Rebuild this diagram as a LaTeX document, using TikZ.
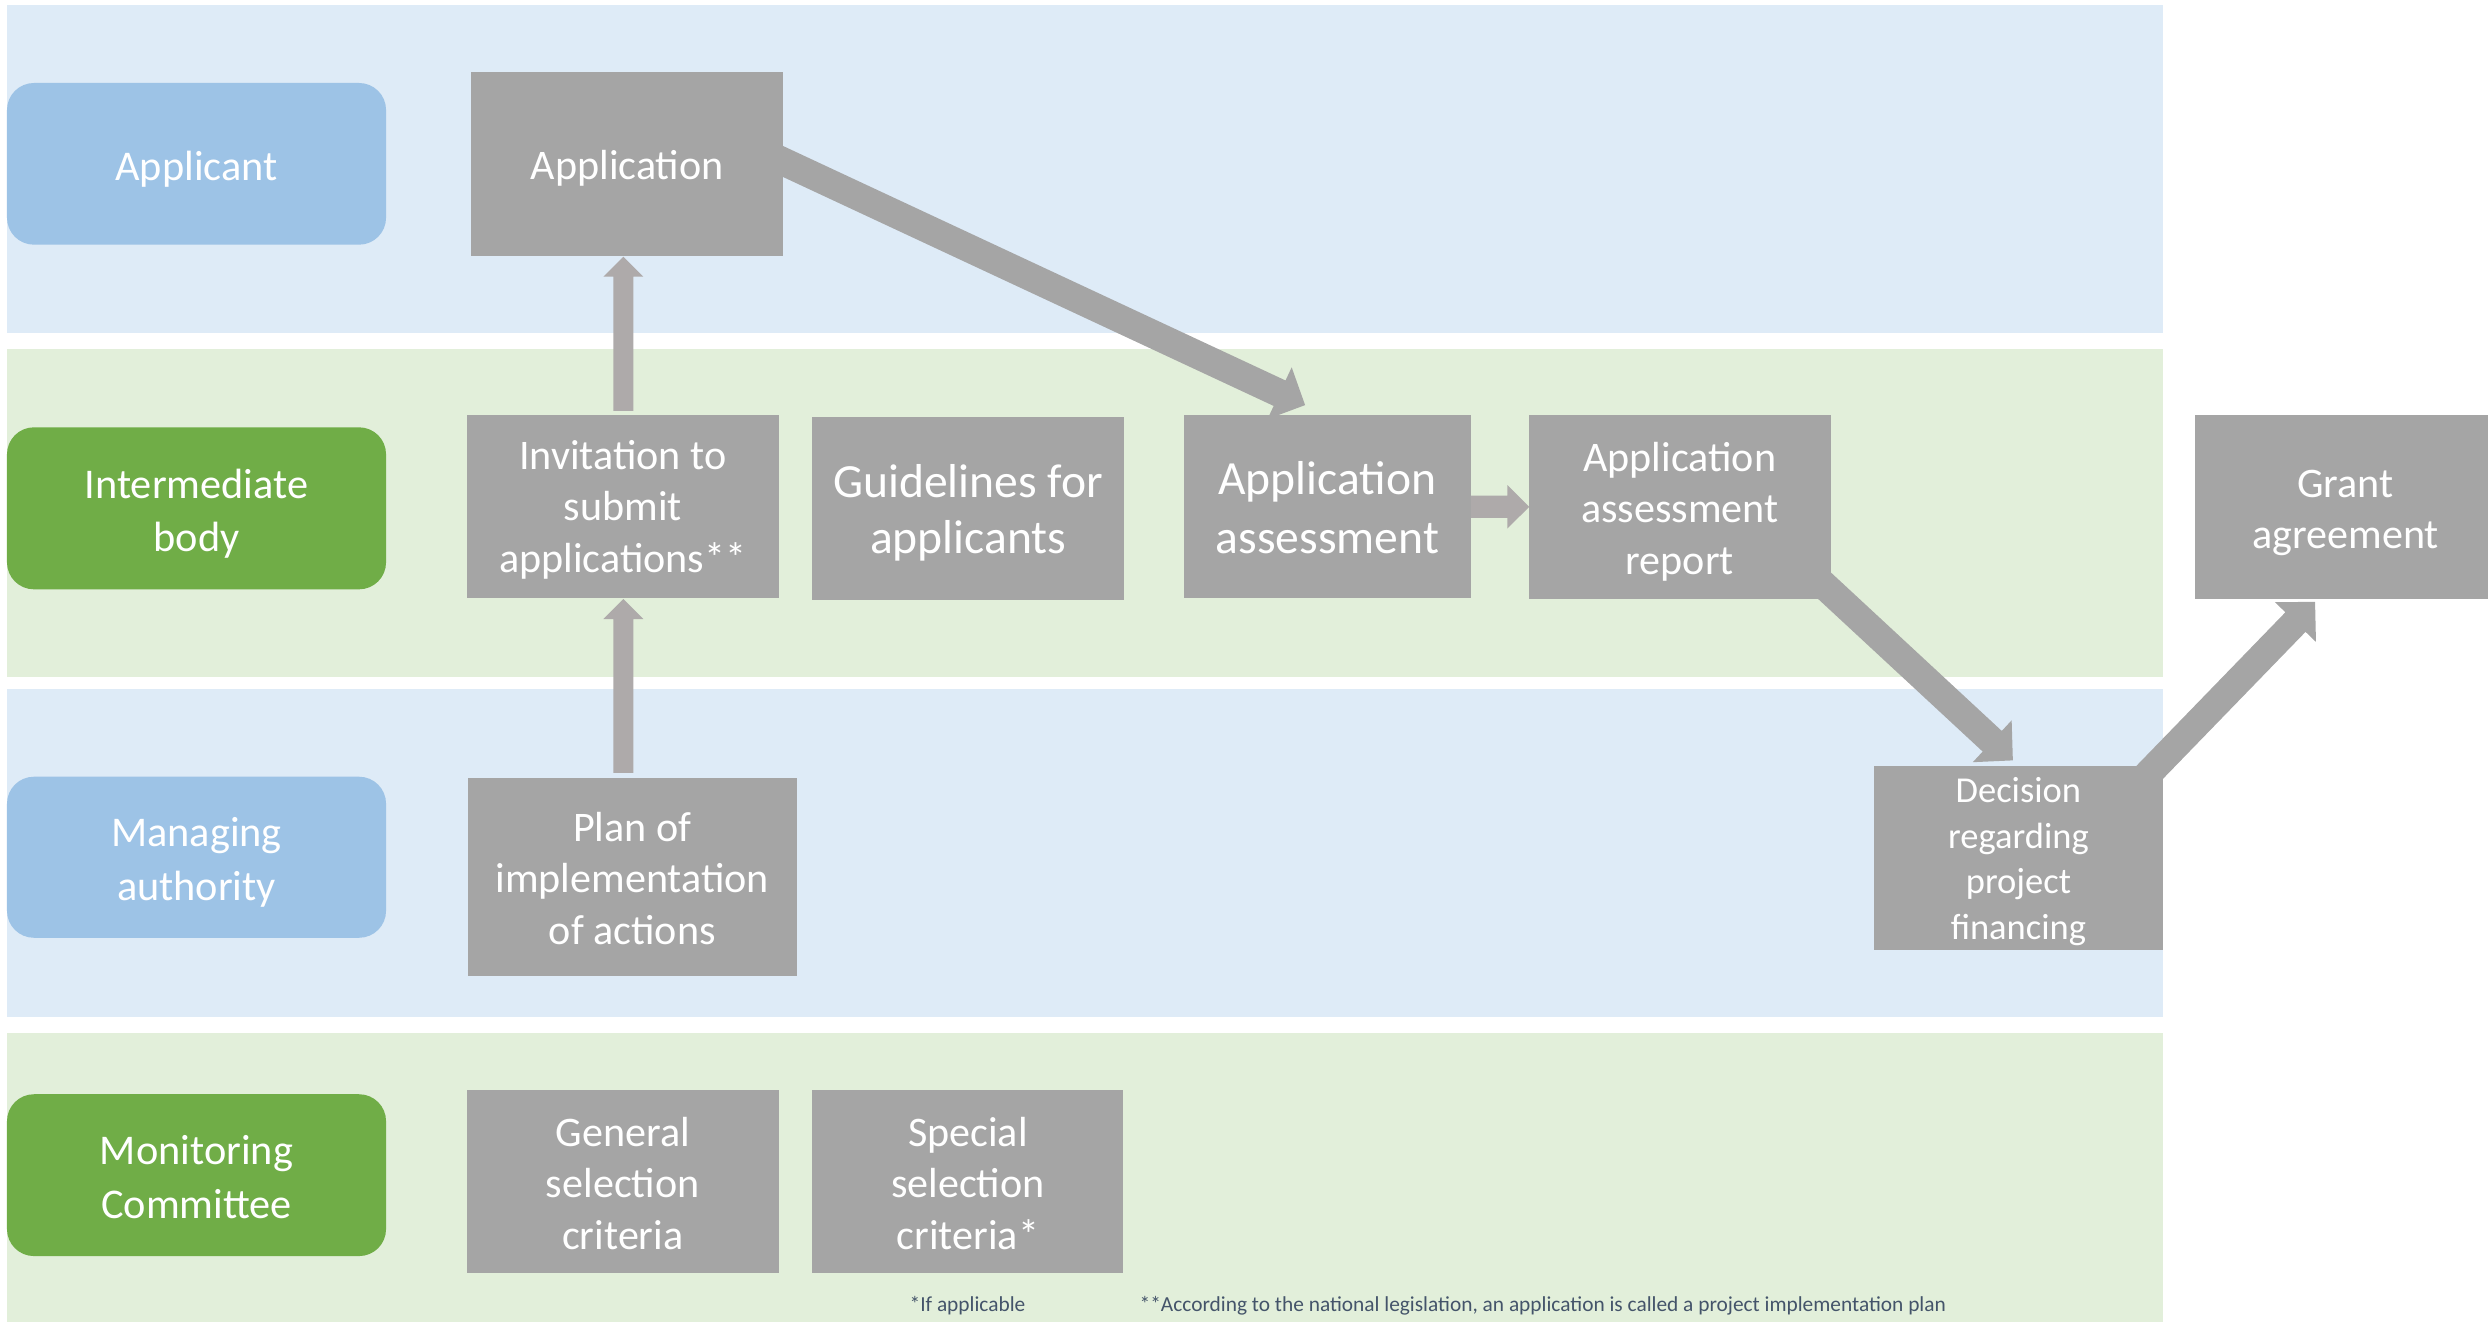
\documentclass[tikz,border=0pt]{standalone}
\usepackage{fontspec}
\setmainfont{Carlito}
\usetikzlibrary{calc}
\definecolor{bandblue}{HTML}{DEEBF7}
\definecolor{bandgreen}{HTML}{E2EFDA}
\definecolor{laneblue}{HTML}{9DC3E6}
\definecolor{lanegreen}{HTML}{70AD47}
\definecolor{boxgray}{HTML}{A5A5A5}
\definecolor{arrgray}{HTML}{AEAAAA}
\definecolor{notecol}{HTML}{44546A}
\pgfdeclarelayer{bands}
\pgfdeclarelayer{arrows}
\pgfsetlayers{bands,arrows,main}
% #1 fill, #2 start, #3 tip, #4 shaft half width, #5 head half width, #6 head length
\newcommand\blockarr[6]{%
  \coordinate (ba-c) at ($(#3)!#6!(#2)$);
  \fill[#1] ($(#2)!#4!90:(#3)$) -- ($(ba-c)!#4!-90:(#2)$) -- ($(ba-c)!#5!-90:(#2)$)
    -- (#3) -- ($(ba-c)!#5!90:(#2)$) -- ($(ba-c)!#4!90:(#2)$) -- ($(#2)!#4!-90:(#3)$) -- cycle;
}
% centred lines, pushed down by #1 without changing the total size
\newcommand\mlines[2][2.7pt]{\raisebox{0pt}[\dimexpr\height+#1\relax][\dimexpr\depth-#1\relax]{\begin{tabular}{@{}c@{}}#2\end{tabular}}}
\begin{document}
\begin{tikzpicture}[x=0.75pt,y=-0.75pt,
  procbox/.style={fill=boxgray, text=white, inner sep=0pt, outer sep=0pt,
    anchor=north west, align=center, font=\fontsize{19.9}{24.4}\selectfont},
  lanebox/.style={rounded corners=12.75pt, text=white, inner sep=0pt, outer sep=0pt,
    anchor=north west, align=center, minimum width={238.9*0.75pt},
    font=\fontsize{20}{25.2}\selectfont},
  note/.style={text=notecol, inner sep=0pt, anchor=base west, font=\fontsize{10.1}{12}\selectfont}]
\useasboundingbox (0,0) rectangle (1568,833.16);

% lane labels
\node[lanebox, fill=laneblue, minimum height={101.9*0.75pt}] (lapp) at (4.4,52.3) {\mlines{Applicant}};
\node[lanebox, fill=lanegreen, minimum height={102.1*0.75pt}] (lib) at (4.4,269.3) {\mlines{Intermediate\\body}};
\node[lanebox, fill=laneblue, minimum height={101.5*0.75pt}] (lma) at (4.4,489.5) {\mlines{Managing\\authority}};
\node[lanebox, fill=lanegreen, minimum height={102*0.75pt}] (lmc) at (4.4,689.6) {\mlines{Monitoring\\Committee}};

% process boxes
\node[procbox, minimum width={196.7*0.75pt}, minimum height={115.8*0.75pt}] (app) at (297,45.4) {\mlines{Application}};
\node[procbox, minimum width={196.5*0.75pt}, minimum height={115.2*0.75pt}] (inv) at (294.3,261.8) {\mlines[1.8pt]{Invitation to\\submit\\applications**}};
\node[procbox, minimum width={196.8*0.75pt}, minimum height={115.6*0.75pt}, font=\fontsize{22.5}{26.5}\selectfont] (guide) at (511.8,262.8) {\mlines{Guidelines for\\applicants}};
\node[procbox, minimum width={180.8*0.75pt}, minimum height={115.5*0.75pt}, font=\fontsize{22.5}{27.5}\selectfont] (assess) at (746.2,261.6) {\mlines{Application\\assessment}};
\node[procbox, minimum width={190.2*0.75pt}, minimum height={116.1*0.75pt}] (report) at (963.5,261.4) {\mlines{Application\\assessment\\report}};
\node[procbox, minimum width={190*0.75pt}, minimum height={116.1*0.75pt}] (grant) at (1383.2,261.4) {\mlines{Grant\\agreement}};
\node[procbox, minimum width={182.3*0.75pt}, minimum height={115.9*0.75pt}, font=\fontsize{17.25}{21.5}\selectfont] (dec) at (1180.9,483) {\mlines[1.7pt]{Decision\\regarding\\project\\financing}};
\node[procbox, minimum width={207*0.75pt}, minimum height={125*0.75pt}] (plan) at (295,490) {\mlines{Plan of\\implementation\\of actions}};
\node[procbox, minimum width={197*0.75pt}, minimum height={115.5*0.75pt}] (gen) at (294,687) {\mlines{General\\selection\\criteria}};
\node[procbox, minimum width={196*0.75pt}, minimum height={115.5*0.75pt}] (spec) at (512,687) {\mlines{Special\\selection\\criteria*}};

% footnotes
\node[note] (n1) at (573,826.7) {*If applicable};
\node[note] (n2) at (718,826.7) {**According to the national legislation, an application is called a project implementation plan};

\begin{pgfonlayer}{bands}
\fill[bandblue] (4.4,3.4) rectangle (1363.2,209.6);
\fill[bandgreen] (4.4,220) rectangle (1363.2,426.4);
\fill[bandblue] (4.4,434.2) rectangle (1363.2,640.8);
\fill[bandgreen] (4.4,650.8) rectangle (1363.2,833.16);
\end{pgfonlayer}

\begin{pgfonlayer}{arrows}
% small arrows
\coordinate (s1) at ($(inv.north)+(0.35,-2.8)$);
\coordinate (t1) at ($(inv.north |- app.south)+(0.35,0.6)$);
\blockarr{arrgray}{s1}{t1}{4.725pt}{9.45pt}{9.45pt}
\coordinate (s2) at ($(inv.south |- plan.north)+(0.35,-3)$);
\coordinate (t2) at ($(inv.south)+(0.35,0.5)$);
\blockarr{arrgray}{s2}{t2}{4.725pt}{9.45pt}{9.45pt}
\coordinate (s3) at ($(assess.east)+(-0.5,0)$);
\coordinate (t3) at ($(report.west)+(0.2,0)$);
\blockarr{arrgray}{s3}{t3}{5.25pt}{10.3pt}{10.3pt}
% big arrows
\coordinate (s4) at ($(app.east)+(-23.7,-12.5)$);
\coordinate (t4) at ($(assess.north)+(-14.1,-6.3)$);
\blockarr{boxgray}{s4}{t4}{6.64pt}{13.5pt}{13.3pt}
\coordinate (s5) at ($(report.south east)+(-13.7,-17.5)$);
\coordinate (t5) at ($(dec.north)+(-3.5,-3.8)$);
\blockarr{boxgray}{s5}{t5}{6.64pt}{13.5pt}{13.3pt}
\coordinate (s6) at ($(dec.north east)+(-23.2,19)$);
\coordinate (t6) at ($(grant.south west)+(75.8,1.8)$);
\blockarr{boxgray}{s6}{t6}{6.64pt}{13.5pt}{13.3pt}
\end{pgfonlayer}
\end{tikzpicture}
\end{document}
